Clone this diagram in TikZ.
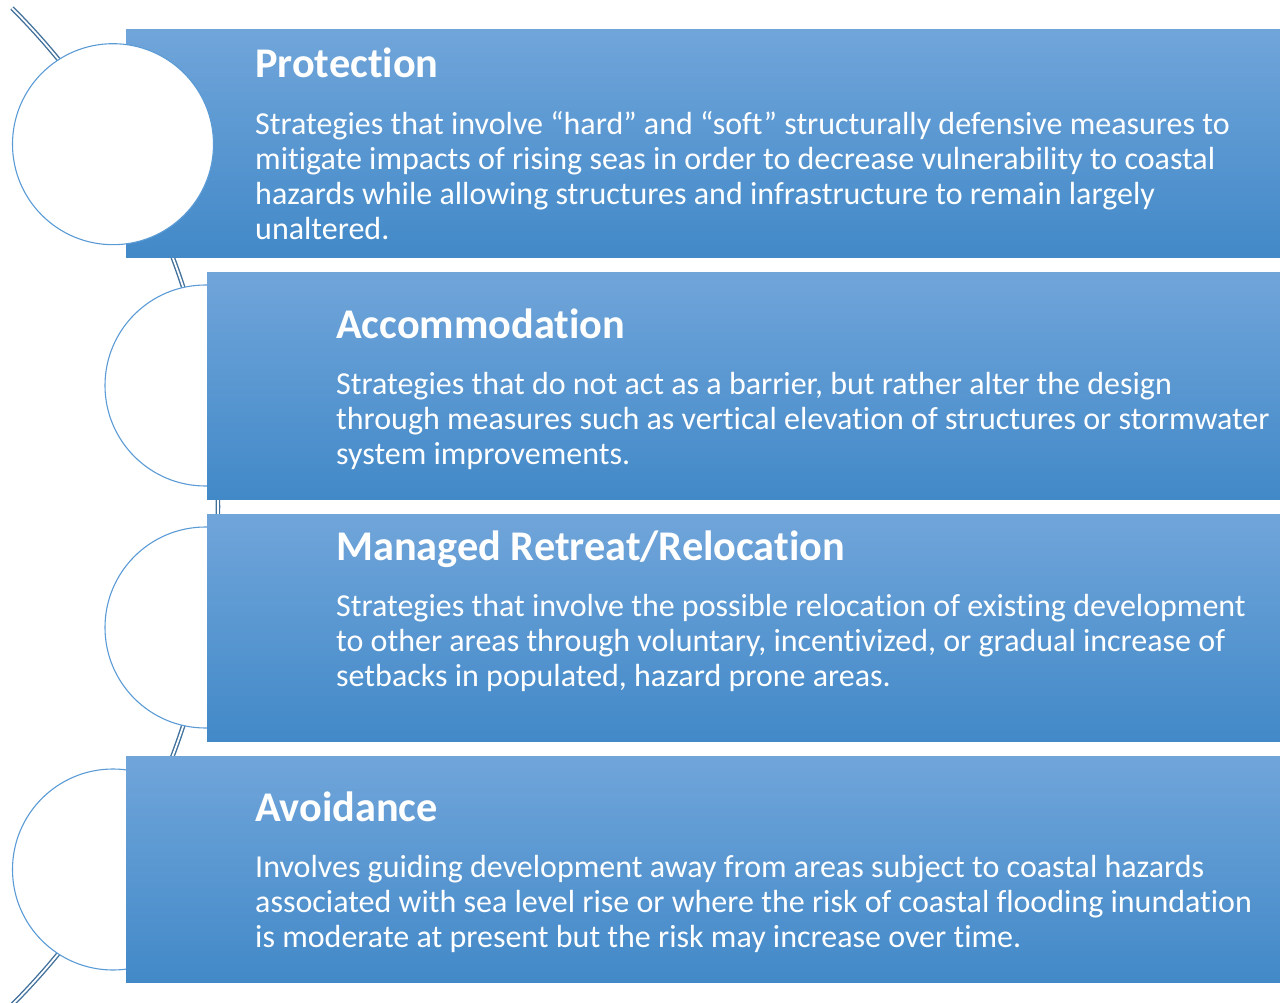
\documentclass[tikz,border=0pt]{standalone}
\usepackage{fontspec}
\setmainfont{Carlito}[Ligatures=NoCommon]
\definecolor{arcblue}{RGB}{65,113,156}
\definecolor{circblue}{RGB}{91,155,213}
\definecolor{gradtop}{RGB}{112,165,218}
\definecolor{gradbot}{RGB}{66,137,200}
\begin{document}
\begin{tikzpicture}[x=1pt,y=-1pt,
  band/.style={top color=gradtop,bottom color=gradbot,draw=none},
  disc/.style={circle,draw=circblue,line width=1.1pt,fill=white,minimum size=201pt,inner sep=0pt},
  headtext/.style={anchor=base west,inner sep=0pt,text=white,font=\fontsize{42.3}{49}\selectfont\bfseries},
  bodytext/.style={anchor=base west,inner sep=0pt,text=white,align=left,font=\fontsize{32}{35}\selectfont},
  spine/.style={draw=arcblue,line width=1.4pt,double=white,double distance=1.8pt}
]
\useasboundingbox (0,0) rectangle (1280,1003);
% spine arc
\coordinate (arcc) at (-488.2,506.5);
\draw[spine] ([shift={(-44.9:706.2)}]arcc) arc[start angle=-44.9,end angle=44.9,radius=706.2];
% circles below bands
\node[disc] (c2) at (205.5,385.5) {};
\node[disc] (c3) at (205.5,627.5) {};
\node[disc] (c4) at (113,869.5) {};
% bands
\path[band] (126,30) rectangle (1280,257.5);
\path[band] (207,272) rectangle (1280,499.3);
\path[band] (207,514) rectangle (1280,741.5);
\path[band] (126,756) rectangle (1280,982.7);
% circle on top of first band
\node[disc] (c1) at (113,144.2) {};
% texts (body nodes anchored at the baseline of their last line)
\node[headtext] (h1) at (255,78) {Protection};
\node[bodytext] (b1) at (255,239.5) {Strategies that involve “hard” and “soft” structurally defensive measures to\\mitigate impacts of rising seas in order to decrease vulnerability to coastal\\hazards while allowing structures and infrastructure to remain largely\\unaltered.};
\node[headtext] (h2) at (336,338) {Accommodation};
\node[bodytext] (b2) at (336,464.5) {Strategies that do not act as a barrier, but rather alter the design\\through measures such as vertical elevation of structures or stormwater\\system improvements.};
\node[headtext] (h3) at (336,560) {Managed Retreat/Relocation};
\node[bodytext] (b3) at (336,686.5) {Strategies that involve the possible relocation of existing development\\to other areas through voluntary, incentivized, or gradual increase of\\setbacks in populated, hazard prone areas.};
\node[headtext] (h4) at (255,821) {Avoidance};
\node[bodytext] (b4) at (255,947.5) {Involves guiding development away from areas subject to coastal hazards\\associated with sea level rise or where the risk of coastal flooding inundation\\is moderate at present but the risk may increase over time.};
\end{tikzpicture}
\end{document}
